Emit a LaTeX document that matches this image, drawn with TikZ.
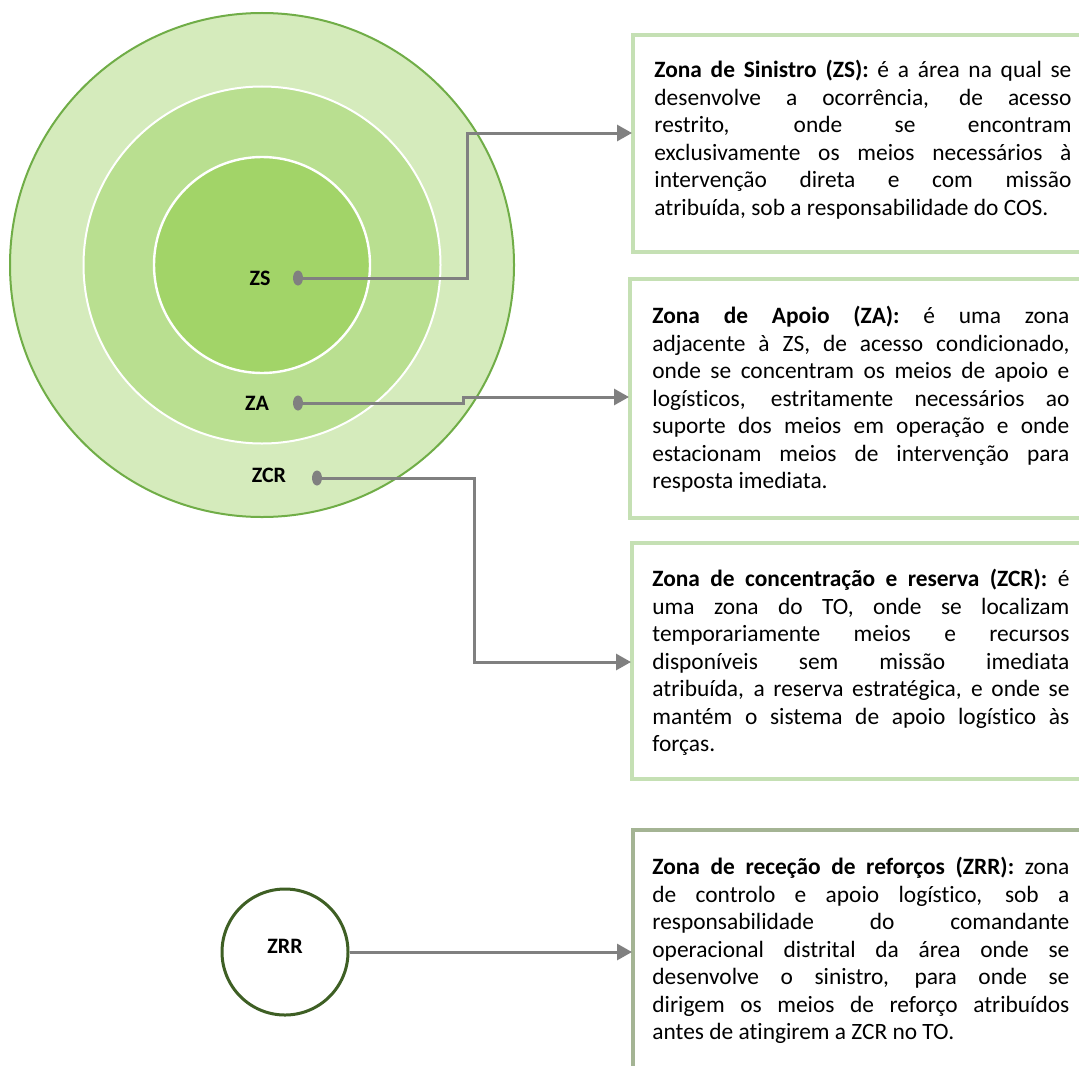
\documentclass[tikz,border=0pt]{standalone}
\usepackage{fontspec}
\setmainfont{Carlito}[Ligatures=NoCommon]
\usetikzlibrary{arrows.meta, shapes.geometric}

\definecolor{zcrfill}{HTML}{D5EBBC}
\definecolor{zafill}{HTML}{B9DF90}
\definecolor{zsfill}{HTML}{A2D468}
\definecolor{ringline}{HTML}{70AD47}
\definecolor{boxline}{HTML}{C5E0B4}
\definecolor{zrrbox}{HTML}{A4B494}
\definecolor{zrrline}{HTML}{3E5F24}
\definecolor{connline}{HTML}{808080}

\newcommand\firstline{\rule{0pt}{9.6pt}}

\tikzset{
    zone/.style={circle, inner sep=0pt},
    zonelabel/.style={font=\bfseries\fontsize{11}{13}\selectfont, inner sep=0pt},
    dot/.style={ellipse, fill=connline, inner sep=0pt, minimum width=5pt, minimum height=7.5pt},
    conn/.style={connline, line width=1.5pt, -{Triangle[length=7.5pt,width=8pt]}},
    desc/.style={anchor=north west, text width=208.5pt, align=justify, inner sep=0pt,
        font=\fontsize{11.7}{13.75}\selectfont,
        execute at begin node={\tolerance=9999 \hbadness=10000 \hyphenpenalty=10000 }},
    frame/.style={boxline, line width=1.8pt},
}

\begin{document}
\begin{tikzpicture}[x=0.5pt, y=-0.5pt]
    \useasboundingbox (0,0) rectangle (1079,1065);

    % Draw the zones
    \node[zone, fill=zcrfill, draw=ringline, line width=1pt, minimum size=252pt] (zcr) at (262,265) {};
    \node[zone, fill=zafill, draw=white, line width=1pt, minimum size=178.5pt] (za) at (262,265) {};
    \node[zone, fill=zsfill, draw=white, line width=1.2pt, minimum size=108pt] (zs) at (262,265) {};
    \node[zone, fill=white, draw=zrrline, line width=1.5pt, minimum size=63pt] (zrr) at (285,952) {};

    % Zone labels and dots
    \node[zonelabel] (zslabel) at (260,278) {ZS};
    \node[zonelabel] (zalabel) at (257,403) {ZA};
    \node[zonelabel] (zcrlabel) at (269,475) {ZCR};
    \node[zonelabel] (zrrlabel) at (285,946) {ZRR};
    \node[dot] (zsdot) at (298,278) {};
    \node[dot] (zadot) at (298,403) {};
    \node[dot] (zcrdot) at (317,478) {};

    % Frames of the descriptions
    \draw[frame] (1079,35) -| (633,252) -- (1079,252);
    \draw[frame] (1079,279) -| (630,518) -- (1079,518);
    \draw[frame] (1079,543) -| (632,779) -- (1079,779);
    \draw[frame, zrrbox] (1079,830) -| (633,1070);
    \coordinate (zsin) at (632,133);
    \coordinate (zain) at (629,397);
    \coordinate (zcrin) at (631,662);
    \coordinate (zrrin) at (632,952);

    % Descriptions
    \node[desc] (zstext) at (654,58) {\firstline\textbf{Zona de Sinistro (ZS):} é a área na qual se\linebreak
        desenvolve a ocorrência, de acesso\linebreak restrito, onde se encontram\linebreak
        exclusivamente os meios necessários à\linebreak intervenção direta e com missão\linebreak
        atribuída, sob a responsabilidade do COS.};
    \node[desc] (zatext) at (652,304) {\firstline\textbf{Zona de Apoio (ZA):} é uma zona\linebreak
        adjacente à ZS, de acesso condicionado,\linebreak onde se concentram os meios de apoio e\linebreak
        logísticos, estritamente necessários ao\linebreak suporte dos meios em operação e onde\linebreak
        estacionam meios de intervenção para\linebreak resposta imediata.};
    \node[desc] (zcrtext) at (652,567) {\firstline\textbf{Zona de concentração e reserva (ZCR):} é\linebreak
        uma zona do TO, onde se localizam\linebreak temporariamente meios e recursos\linebreak
        disponíveis sem missão imediata\linebreak atribuída, a reserva estratégica, e onde se\linebreak
        mantém o sistema de apoio logístico às\linebreak forças.};
    \node[desc] (zrrtext) at (652,855) {\firstline\textbf{Zona de receção de reforços (ZRR):} zona\linebreak
        de controlo e apoio logístico, sob a\linebreak responsabilidade do comandante\linebreak
        operacional distrital da área onde se\linebreak desenvolve o sinistro, para onde se\linebreak
        dirigem os meios de reforço atribuídos\linebreak antes de atingirem a ZCR no TO.};

    % Connectors
    \draw[conn] (zsdot.east) -| (467,133) -- (zsin);
    \draw[conn] (zadot.east) -| (463,397) -- (zain);
    \draw[conn] (zcrdot.east) -| (474,662) -- (zcrin);
    \draw[conn] (zrr) -- (zrrin);
\end{tikzpicture}
\end{document}
